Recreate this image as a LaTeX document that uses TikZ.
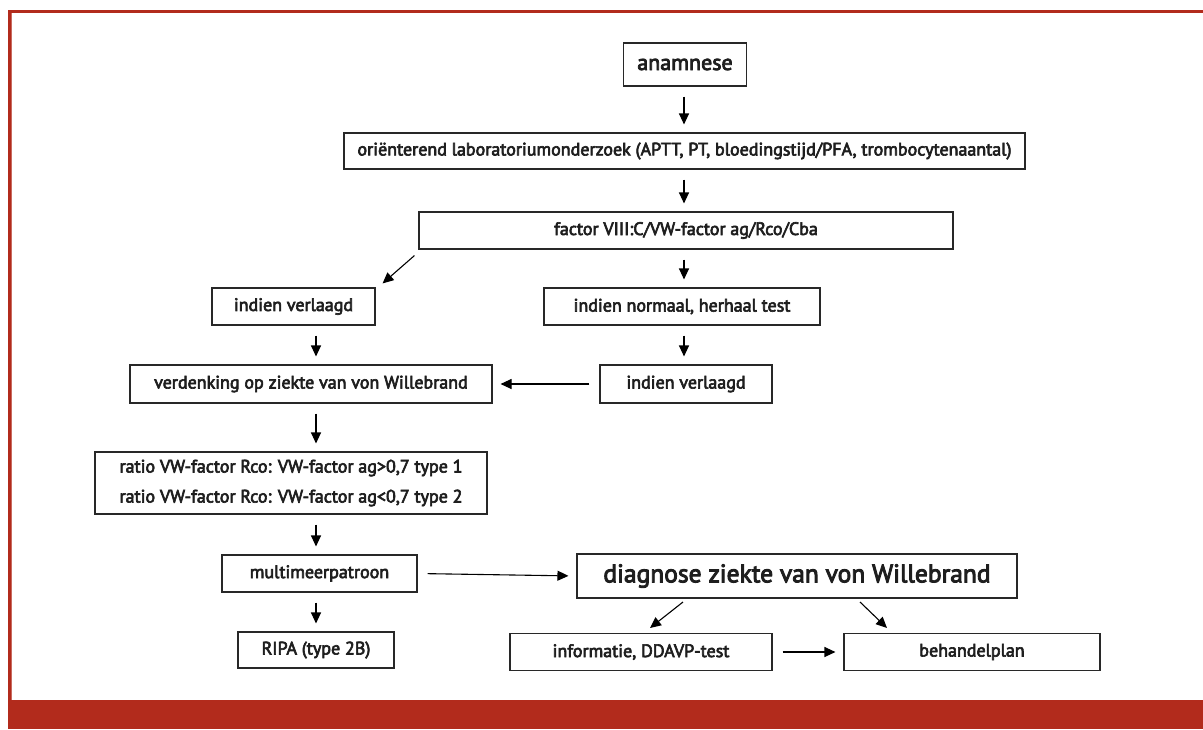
\documentclass[tikz,border=0pt]{standalone}
\usepackage{fontspec}
\setmainfont{PT Sans}
\newfontfamily\medfont{PT Sans}[FakeBold=3.5]
\usetikzlibrary{arrows.meta,calc}
\definecolor{framered}{RGB}{178,43,28}
\definecolor{boxline}{RGB}{40,40,40}
\definecolor{txt}{RGB}{30,30,30}
\tikzset{
  box/.style={draw=boxline,line width=1.1pt,inner sep=0pt,text=txt,font=\medfont\fontsize{18}{21}\selectfont,align=center},
  arr/.style={draw=black,line width=1.1pt,-{Triangle[length=11pt,width=10pt]},shorten <=10pt,shorten >=8pt},
}
\begin{document}
\begin{tikzpicture}[x=1pt,y=-1pt]
\useasboundingbox (0,0) rectangle (1203,729);
% frame
\fill[framered] (8,10) rectangle (1203,12.7);
\fill[framered] (8,10) rectangle (10.7,700);
\fill[framered!70] (10.7,12.7) rectangle (11.5,700);
\fill[framered] (8,700) rectangle (1203,729);
% nodes
\node[box,minimum width=123pt,minimum height=43pt,font=\medfont\fontsize{22}{26}\selectfont] (ana) at (685,64.5) {anamnese};
\node[box,minimum width=681pt,minimum height=36pt] (ori) at (684.5,151) {oriënterend laboratoriumonderzoek (APTT, PT, bloedingstijd/PFA, trombocytenaantal)};
\node[box,minimum width=534pt,minimum height=37pt] (fac) at (686,230.5) {factor VIII:C/VW-factor ag/Rco/Cba};
\node[box,minimum width=163pt,minimum height=37pt] (lv) at (293.5,306.5) {indien verlaagd};
\node[box,minimum width=276pt,minimum height=37pt] (rn) at (682,306.5) {indien normaal, herhaal test};
\node[box,minimum width=362pt,minimum height=38pt] (verd) at (311,384) {verdenking op ziekte van von Willebrand};
\node[box,minimum width=172pt,minimum height=38pt] (rv) at (686,384) {indien verlaagd};
\node[box,minimum width=392pt,minimum height=62pt,font=\medfont\fontsize{18}{30}\selectfont] (ratio) at (291,483) {ratio VW-factor Rco: VW-factor ag>0,7 type 1\\ratio VW-factor Rco: VW-factor ag<0,7 type 2};
\node[box,minimum width=195pt,minimum height=37pt] (multi) at (319.5,573.5) {multimeerpatroon};
\node[box,minimum width=156pt,minimum height=36pt] (ripa) at (316,650) {RIPA (type 2B)};
\node[box,minimum width=440pt,minimum height=44pt,font=\medfont\fontsize{25.5}{30}\selectfont] (diag) at (797,576) {diagnose ziekte van von Willebrand};
\node[box,minimum width=262pt,minimum height=37pt] (info) at (641,652) {informatie, DDAVP-test};
\node[box,minimum width=256pt,minimum height=37pt] (beh) at (972,652) {behandelplan};
\coordinate (lc) at (316,0);
\coordinate (mc) at (684,0);
% connectors
\draw[arr] (ana.south -| mc) -- (ori.north -| mc);
\draw[arr] (ori.south -| mc) -- (fac.north -| mc);
\coordinate (d1s) at ($(fac.south west)+(-4,6)$);
\coordinate (d1e) at ($(lv.north east)+(7,-4)$);
\draw[arr,shorten <=0pt,shorten >=0pt] (d1s) -- (d1e);
\draw[arr] (fac.south -| mc) -- (rn.north -| mc);
\draw[arr] (rn.south -| mc) -- (rv.north -| mc);
\draw[arr] (lv.south -| lc) -- (verd.north -| lc);
\draw[arr] (rv.west) -- (verd.east);
\draw[arr] (verd.south -| lc) -- (ratio.north -| lc);
\draw[arr] (ratio.south -| lc) -- (multi.north -| lc);
\draw[arr] (multi.south -| lc) -- (ripa.north -| lc);
\draw[arr] (multi.east) -- (diag.west);
\coordinate (d2s) at (683,602);
\coordinate (d2e) at (650,628);
\coordinate (d3s) at (860,602);
\coordinate (d3e) at (887,628);
\draw[arr,shorten <=0pt,shorten >=0pt] (d2s) -- (d2e);
\draw[arr,shorten <=0pt,shorten >=0pt] (d3s) -- (d3e);
\draw[arr] (info.east) -- (beh.west);
\end{tikzpicture}
\end{document}
